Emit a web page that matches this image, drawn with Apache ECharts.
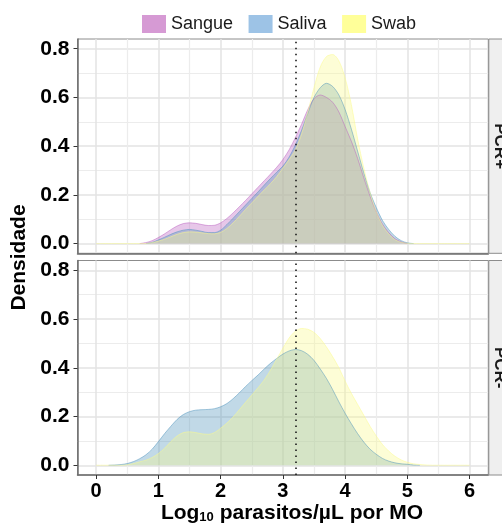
<!DOCTYPE html>
<html><head><meta charset="utf-8">
<script src="https://cdn.jsdelivr.net/npm/echarts@6/dist/echarts.min.js"></script>
<style>html,body{margin:0;padding:0;background:#fff}#c{width:502px;height:524px}</style>
</head><body><div id="c"></div>
<script>
const groups = ['Sangue', 'Saliva', 'Swab'];
const panels = ['PCR+', 'PCR-'];
const xGrid = [0.0,0.1,0.2,0.3,0.4,0.5,0.6,0.7,0.8,0.9,1.0,1.1,1.2,1.3,1.4,1.5,1.6,1.7,1.8,1.9,2.0,2.1,2.2,2.3,2.4,2.5,2.6,2.7,2.8,2.9,3.0,3.1,3.2,3.3,3.4,3.5,3.6,3.7,3.8,3.9,4.0,4.1,4.2,4.3,4.4,4.5,4.6,4.7,4.8,4.9,5.0,5.1,5.2,5.3,5.4,5.5,5.6,5.7,5.8,5.9,6.0];

// PCR+ panel densities
const posSangue = [null,null,null,null,null,null,null,0,0.004,0.012,0.025,0.040,0.057,0.072,0.082,0.085,0.083,0.078,0.074,0.075,0.085,0.103,0.126,0.151,0.177,0.204,0.231,0.258,0.285,0.313,0.345,0.385,0.435,0.49,0.55,0.595,0.61,0.60,0.58,0.54,0.48,0.42,0.35,0.27,0.195,0.13,0.08,0.045,0.02,0.007,0,null,null,null,null,null,null,null,null,null,null];
const posSaliva = [null,null,null,null,null,null,null,null,0,0.005,0.015,0.026,0.038,0.048,0.055,0.058,0.055,0.05,0.045,0.045,0.055,0.078,0.104,0.131,0.158,0.185,0.212,0.240,0.267,0.293,0.318,0.355,0.405,0.465,0.535,0.60,0.64,0.658,0.645,0.61,0.55,0.47,0.38,0.29,0.21,0.148,0.095,0.058,0.03,0.012,0.003,0,null,null,null,null,null,null,null,null,null];
const posSwab = [0,0,0,0,0,0,0,0,0,0.004,0.01,0.018,0.028,0.038,0.045,0.048,0.047,0.044,0.041,0.040,0.046,0.062,0.085,0.112,0.140,0.167,0.194,0.220,0.246,0.275,0.31,0.345,0.385,0.45,0.54,0.64,0.725,0.768,0.776,0.75,0.68,0.57,0.43,0.31,0.21,0.13,0.075,0.04,0.016,0.005,0.001,0,0,0,0,0,0,0,0,0,0];

// PCR- panel densities
const negSaliva = [null,null,0,0.001,0.003,0.007,0.015,0.027,0.043,0.066,0.097,0.13,0.16,0.188,0.208,0.22,0.226,0.228,0.229,0.232,0.24,0.253,0.273,0.297,0.323,0.347,0.37,0.395,0.418,0.438,0.456,0.469,0.475,0.47,0.455,0.43,0.395,0.356,0.31,0.26,0.213,0.17,0.13,0.095,0.066,0.045,0.028,0.017,0.01,0.006,0.004,0.001,0,null,null,null,null,null,null,null,null];
const negSwab = [0,0,0,0,0,0.002,0.007,0.014,0.021,0.032,0.048,0.07,0.097,0.12,0.134,0.137,0.134,0.129,0.127,0.134,0.152,0.173,0.198,0.228,0.258,0.288,0.318,0.35,0.39,0.435,0.48,0.522,0.55,0.561,0.558,0.545,0.52,0.485,0.445,0.40,0.345,0.295,0.25,0.205,0.16,0.12,0.085,0.058,0.037,0.022,0.012,0.006,0.003,0.001,0,0,0,0,0,0,0];

const xTicks = [0, 1, 2, 3, 4, 5, 6];
const xMinorTicks = [0.5, 1.5, 2.5, 3.5, 4.5, 5.5];
const yTicks = [0, 0.2, 0.4, 0.6, 0.8];
const yMinorTicks = [0.1, 0.3, 0.5, 0.7];
const cutoffLog = 3.2;

const FONT = "'Liberation Sans', Arial, sans-serif";
const fillCol = { Sangue: [186, 96, 192], Saliva: [78, 146, 188], Swab: [250, 250, 138] };
const keyCol = { Sangue: '#D69AD4', Saliva: '#9DC3E6', Swab: '#FFFF99' };
const rgba = (c, a) => `rgba(${c[0]},${c[1]},${c[2]},${a})`;

const gridsGeo = [
  { left: 77.5, top: 39, width: 410.8, height: 214.3 },
  { left: 77.5, top: 260.5, width: 410.8, height: 214.5 }
];
const XMIN = -0.3, XMAX = 6.3, YMIN = -0.04, YMAX = 0.84;

const grid = gridsGeo.map(g => Object.assign({ show: true, borderColor: '#8c8c8c', borderWidth: 1, backgroundColor: '#fff' }, g));
const xAxis = [], yAxis = [];
gridsGeo.forEach((g, i) => {
  const bottom = i === 1;
  xAxis.push({
    type: 'value', gridIndex: i, min: XMIN, max: XMAX, position: 'bottom',
    axisLine: { show: true, onZero: false, lineStyle: { color: '#6e6e6e', width: 1.5 } },
    axisTick: { show: bottom, length: 4, lineStyle: { color: '#333', width: 1 }, customValues: xTicks },
    axisLabel: { show: bottom, customValues: xTicks, fontSize: 20, fontWeight: 'bold', color: '#000', fontFamily: FONT, margin: 6 },
    splitLine: { show: true, lineStyle: { color: '#e3e3e3', width: 1.5 } }
  });
  xAxis.push({
    type: 'value', gridIndex: i, min: XMIN, max: XMAX, position: 'top',
    axisLine: { show: false },
    axisTick: { show: false, customValues: xMinorTicks },
    axisLabel: { show: false, customValues: xMinorTicks },
    splitLine: { show: true, lineStyle: { color: '#ececec', width: 1.2 } }
  });
  yAxis.push({
    type: 'value', gridIndex: i, min: YMIN, max: YMAX, position: 'left',
    axisLine: { show: true, onZero: false, lineStyle: { color: '#6e6e6e', width: 1.5 } },
    axisTick: { show: true, length: 4, lineStyle: { color: '#333', width: 1 }, customValues: yTicks },
    axisLabel: { show: true, customValues: yTicks, formatter: v => v.toFixed(1), fontSize: 21, fontWeight: 'bold', color: '#000', fontFamily: FONT, margin: 8 },
    splitLine: { show: true, lineStyle: { color: '#e3e3e3', width: 1.5 } }
  });
  yAxis.push({
    type: 'value', gridIndex: i, min: YMIN, max: YMAX, position: 'right',
    axisLine: { show: false },
    axisTick: { show: false, customValues: yMinorTicks },
    axisLabel: { show: false, customValues: yMinorTicks },
    splitLine: { show: true, lineStyle: { color: '#ececec', width: 1.2 } }
  });
});

function mkSeries(name, values, gi, withCutoff) {
  const c = fillCol[name];
  const s = {
    name, type: 'line', xAxisIndex: gi * 2, yAxisIndex: gi * 2,
    data: xGrid.map((x, k) => [x, values[k]]),
    smooth: 0.3, showSymbol: false, symbol: 'none', silent: true,
    lineStyle: { color: rgba(c, 0.55), width: 0.9 },
    itemStyle: { color: keyCol[name] },
    areaStyle: { color: rgba(c, 0.5), origin: 0 },
    connectNulls: false
  };
  if (withCutoff) {
    s.markLine = {
      silent: true, symbol: 'none', label: { show: false },
      lineStyle: { color: '#1a1a1a', width: 1.6, type: [1.6, 4.4] },
      data: [{ xAxis: cutoffLog }]
    };
  }
  return s;
}

const series = [
  mkSeries('Sangue', posSangue, 0, false),
  mkSeries('Saliva', posSaliva, 0, false),
  mkSeries('Swab', posSwab, 0, true),
  mkSeries('Saliva', negSaliva, 1, false),
  mkSeries('Swab', negSwab, 1, true)
];

const graphic = [];
gridsGeo.forEach((g, i) => {
  graphic.push({
    type: 'rect', z: 10,
    shape: { x: g.left + g.width + 0.5, y: g.top, width: 30, height: g.height },
    style: { fill: '#efefef', stroke: '#8c8c8c', lineWidth: 1 }
  });
  graphic.push({
    type: 'text', z: 11,
    x: 499.5, y: g.top + g.height / 2, rotation: -Math.PI / 2,
    style: { text: panels[i], font: "bold 17px 'Liberation Sans', Arial", fill: '#1a1a1a', align: 'center', verticalAlign: 'middle' }
  });
});
graphic.push({
  type: 'text', z: 11, x: 19, y: 257.5, rotation: Math.PI / 2,
  style: { text: 'Densidade', font: "bold 21px 'Liberation Sans', Arial", fill: '#000', align: 'center', verticalAlign: 'middle' }
});
graphic.push({
  type: 'text', z: 11, x: 292, y: 512,
  style: {
    text: '{a|Log}{s|10}{a| parasitos/µL por MO}',
    align: 'center', verticalAlign: 'middle',
    rich: {
      a: { fontSize: 21, fontWeight: 'bold', fontFamily: FONT, fill: '#000', lineHeight: 24, verticalAlign: 'bottom' },
      s: { fontSize: 13, fontWeight: 'bold', fontFamily: FONT, fill: '#000', lineHeight: 15, verticalAlign: 'bottom' }
    }
  }
});

const chart = echarts.init(document.getElementById('c'), null, { renderer: 'canvas' });
chart.setOption({
  animation: false,
  backgroundColor: '#fff',
  legend: {
    left: 142, top: 15, padding: 0, itemGap: 15.5, itemWidth: 24, itemHeight: 18, icon: 'rect',
    selectedMode: false,
    textStyle: { fontSize: 18, color: '#1a1a1a', fontFamily: FONT },
    data: groups.map(n => ({ name: n, icon: 'rect', itemStyle: { color: keyCol[n], borderWidth: 0 } }))
  },
  grid, xAxis, yAxis, series, graphic
});
</script></body></html>
